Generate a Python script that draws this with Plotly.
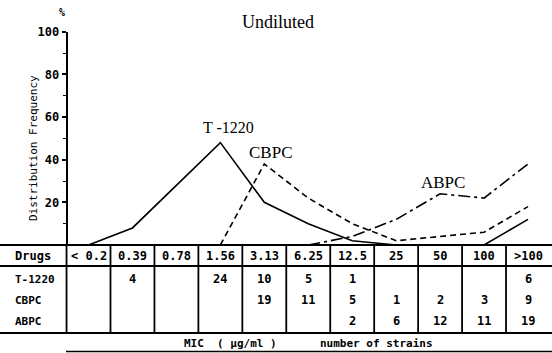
import plotly.graph_objects as go

# ---- data ----
mic_labels = ["< 0.2", "0.39", "0.78", "1.56", "3.13", "6.25", "12.5", "25", "50", "100", ">100"]
drugs = ["T-1220", "CBPC", "ABPC"]
# distribution frequency (%)
t1220_pct = [0, 8, None, 48, 20, 10, 2, 0, 0, 0, 12]
cbpc_pct = [None, None, None, 0, 38, 22, 10, 2, 4, 6, 18]
abpc_pct = [None, None, None, None, None, 0, 4, 12, 24, 22, 38]
# number of strains (table)
t1220_n = ["", "4", "", "24", "10", "5", "1", "", "", "", "6"]
cbpc_n = ["", "", "", "", "19", "11", "5", "1", "2", "3", "9"]
abpc_n = ["", "", "", "", "", "", "2", "6", "12", "11", "19"]
counts = [t1220_n, cbpc_n, abpc_n]
y_ticks = [0, 20, 40, 60, 80, 100]

W, H = 552, 353
XMIN, XMAX = -2.014, 10.546
idx = list(range(len(mic_labels)))


def py(p):
    return 1 - p / H


def px(p):
    return XMIN + (XMAX - XMIN) * p / W


axis_pos = (-0.5 - XMIN) / (XMAX - XMIN)

fig = go.Figure()
fig.add_trace(go.Scatter(x=idx, y=t1220_pct, mode="lines", connectgaps=True,
                         line=dict(color="black", width=1.6), showlegend=False))
fig.add_trace(go.Scatter(x=idx, y=cbpc_pct, mode="lines",
                         line=dict(color="black", width=1.6, dash="6px,4px"), showlegend=False))
fig.add_trace(go.Scatter(x=idx, y=abpc_pct, mode="lines",
                         line=dict(color="black", width=1.6, dash="12px,4px,3px,4px"), showlegend=False))

shapes = []
line_w = 1.8
for yy in (245, 266, 333):
    shapes.append(dict(type="line", xref="paper", yref="paper", x0=0, x1=1,
                       y0=py(yy), y1=py(yy), line=dict(color="black", width=line_w)))
shapes.append(dict(type="line", xref="paper", yref="paper", x0=66 / W, x1=1,
                   y0=py(351.5), y1=py(351.5), line=dict(color="black", width=1.5)))
for i in idx:
    shapes.append(dict(type="line", xref="x", yref="paper", x0=i - 0.5, x1=i - 0.5,
                       y0=py(245), y1=py(333), line=dict(color="black", width=line_w)))

mono = "DejaVu Sans Mono"
serif = "Liberation Serif"
ann = []


def add(x, y, text, family, size, xanchor="center", angle=0):
    ann.append(dict(x=x, y=py(y), xref="x", yref="paper", text=text, showarrow=False,
                    xanchor=xanchor, yanchor="middle", textangle=angle,
                    font=dict(family=family, size=size, color="black")))


# header row
add(px(13), 256, "<b>Drugs</b>", mono, 12, "left")
for i, lab in enumerate(mic_labels):
    add(i, 256, "<b>%s</b>" % lab, mono, 12)
row_y = [279, 300, 321]
for r, d in enumerate(drugs):
    add(px(13), row_y[r], "<b>%s</b>" % d, mono, 11, "left")
    for i, v in enumerate(counts[r]):
        if v:
            add(i, row_y[r], "<b>%s</b>" % v, mono, 12)
add(px(230), 343, "<b>MIC  ( μg/ml )</b>", mono, 11)
add(px(376), 343, "<b>number of strains</b>", mono, 11)
# chart labels
add(px(278), 22, "Undiluted", serif, 18)
add(px(228), 128, "T -1220", serif, 16)
add(px(270), 152, "CBPC", serif, 17)
add(px(443), 182, "ABPC", serif, 17)
add(px(62), 13, "<b>%</b>", mono, 10)
add(px(33), 148, "Distribution Frequency", mono, 11, angle=-90)

fig.update_layout(
    width=W, height=H, margin=dict(l=0, r=0, t=0, b=0, autoexpand=False),
    paper_bgcolor="white", plot_bgcolor="white",
    xaxis=dict(range=[XMIN, XMAX], visible=False, domain=[0, 1]),
    yaxis=dict(range=[0, 100], domain=[py(245), py(31.7)], anchor="free", position=axis_pos,
               showgrid=False, zeroline=False, showline=True, linecolor="black", linewidth=2,
               ticks="outside", ticklen=4, tickwidth=1.5, tickcolor="black",
               tickvals=y_ticks, ticktext=["" if v == 0 else "<b>%d</b>" % v for v in y_ticks],
               tickfont=dict(family=mono, size=12, color="black"), automargin=False,
               minor=dict(dtick=10, ticks="outside", ticklen=3, tickcolor="black", tickwidth=1.2)),
    shapes=shapes, annotations=ann,
)
fig.write_html("out.html", config={"displayModeBar": False},
               post_script="document.body.style.margin='0';document.body.style.overflow='hidden';")
